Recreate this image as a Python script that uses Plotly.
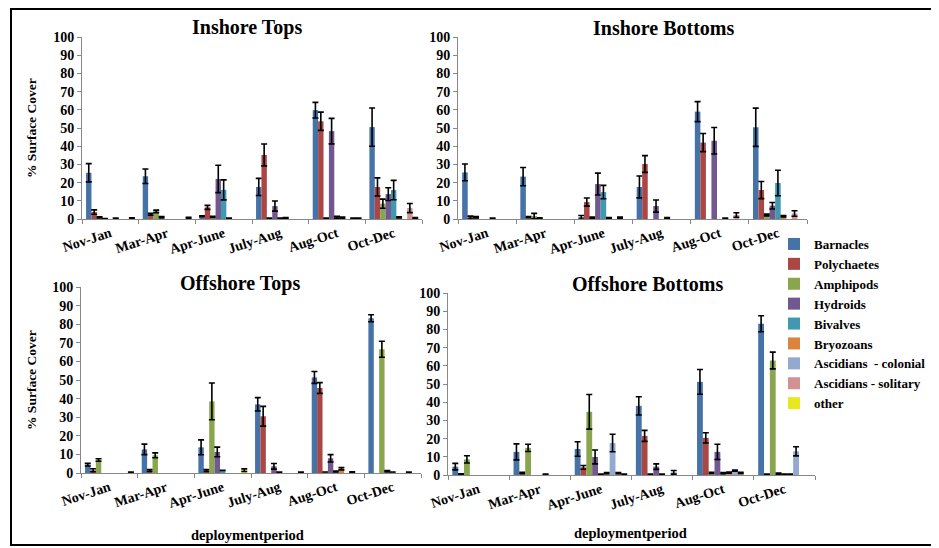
import plotly.graph_objects as go

categories = ["Nov-Jan", "Mar-Apr", "Apr-June", "July-Aug", "Aug-Oct", "Oct-Dec"]
series_names = ["Barnacles", "Polychaetes", "Amphipods", "Hydroids", "Bivalves",
                "Bryozoans", "Ascidians  - colonial", "Ascidians - solitary", "other"]
colors = ["#4572A7", "#AA4643", "#89A54E", "#71588F", "#4198AF",
          "#DB843D", "#93A9CF", "#D19392", "#E8E81E"]

# Inshore Tops: values and error
it_barnacles = [25.4, 23.5, 1.5, 17.6, 59.8, 50.5]
it_barnacles_err = [5, 4, 0.3, 4.7, 4.3, 10.5]
it_polychaetes = [3.8, 2.6, 6.4, 35.2, 53.7, 17.6]
it_polychaetes_err = [1.2, 0.5, 1.1, 6, 5, 5]
it_amphipods = [0.9, 4.2, 1.2, 0.5, 0.5, 8.4]
it_amphipods_err = [0.3, 0.7, 0.3, 0, 0, 2.5]
it_hydroids = [0.3, 1.0, 22, 7.1, 48.3, 13.7]
it_hydroids_err = [0, 0.3, 7.5, 2.8, 7, 3.5]
it_bivalves = [None, None, 16, 0.3, 1.0, 15.9]
it_bivalves_err = [0, 0, 5.5, 0.2, 0.5, 5.3]
it_bryozoans = [0.3, None, 0.3, 0.5, 0.8, 0.9]
it_bryozoans_err = [0.2, 0, 0.2, 0.3, 0.3, 0.3]
it_asc_col = [None, None, None, None, None, None]
it_asc_col_err = [0, 0, 0, 0, 0, 0]
it_asc_sol = [None, None, None, None, 0.3, 6.0]
it_asc_sol_err = [0, 0, 0, 0, 0.2, 2.5]
it_other = [0.4, 0.6, None, None, 0.5, 0.5]
it_other_err = [0.2, 0.3, 0, 0, 0, 0.3]

# Inshore Bottoms
ib_barnacles = [25.6, 23.3, 0.9, 17.6, 59.0, 50.4]
ib_barnacles_err = [4.6, 5, 1, 6, 5.5, 10.5]
ib_polychaetes = [0.8, 1.1, 9.3, 30.2, 42, 15.9]
ib_polychaetes_err = [0.8, 0.3, 2.2, 4.6, 5, 4.7]
ib_amphipods = [1.0, 1.6, 0.8, None, None, 2.2]
ib_amphipods_err = [0.4, 1.5, 0.3, 0, 0, 0.5]
ib_hydroids = [None, 0.5, 19.2, 7.1, 43, 7.3]
ib_hydroids_err = [0, 0.2, 6, 3.3, 7.3, 1.8]
ib_bivalves = [None, None, 14.8, None, None, 19.8]
ib_bivalves_err = [0, 0, 3.7, 0, 0, 7]
ib_bryozoans = [0.3, None, 0.5, 0.5, 0.3, 1.5]
ib_bryozoans_err = [0.2, 0, 0.3, 0.3, 0.2, 0.4]
ib_asc_col = [None, None, None, None, None, None]
ib_asc_col_err = [0, 0, 0, 0, 0, 0]
ib_asc_sol = [None, None, 0.8, None, 2.2, 3.0]
ib_asc_sol_err = [0, 0, 0.3, 0, 1.2, 1.5]
ib_other = [None, None, None, None, None, None]
ib_other_err = [0, 0, 0, 0, 0, 0]

# Offshore Tops
ot_barnacles = [4.5, 12.7, 13.8, 36.9, 51.4, 83.2]
ot_barnacles_err = [0.7, 2.8, 4, 3.6, 3.2, 1.9]
ot_polychaetes = [1.5, 1.3, 1.3, 30.5, 45.7, None]
ot_polychaetes_err = [0.8, 0.5, 0.5, 5.3, 2.9, 0]
ot_amphipods = [7.0, 9.5, 38.5, None, 0.5, 66.5]
ot_amphipods_err = [0.7, 1.3, 9.9, 0, 0, 4.3]
ot_hydroids = [None, None, 11.3, 3.6, 7.9, 1.0]
ot_hydroids_err = [0, 0, 2.6, 1.5, 2, 0.3]
ot_bivalves = [None, None, 1.4, 0.3, 0.8, 0.5]
ot_bivalves_err = [0, 0, 0, 0.2, 0.3, 0]
ot_bryozoans = [None, None, None, None, 2.3, None]
ot_bryozoans_err = [0, 0, 0, 0, 0.6, 0]
ot_asc_col = [None, None, None, None, None, None]
ot_asc_col_err = [0, 0, 0, 0, 0, 0]
ot_asc_sol = [None, None, None, None, 0.5, 0.3]
ot_asc_sol_err = [0, 0, 0, 0, 0.2, 0.2]
ot_other = [0.3, None, 1.5, 0.3, None, None]
ot_other_err = [0.2, 0, 0.7, 0.2, 0, 0]

# Offshore Bottoms
ob_barnacles = [4.6, 12.7, 14.3, 38.0, 51.2, 83.1]
ob_barnacles_err = [1.8, 4.4, 4, 5, 6.8, 4.4]
ob_polychaetes = [0.5, 1.2, 4.2, 21.5, 20.4, 0.5]
ob_polychaetes_err = [0.2, 0.3, 1, 3, 2.8, 0]
ob_amphipods = [8.6, 14.9, 34.7, 0.5, 1.2, 62.9]
ob_amphipods_err = [2, 2, 9.5, 0, 0.3, 4.6]
ob_hydroids = [None, None, 9.9, 4.6, 12.7, 0.8]
ob_hydroids_err = [0, 0, 3.8, 1.5, 4.2, 0.3]
ob_bivalves = [None, None, 0.5, 0.5, 1.0, 0.5]
ob_bivalves_err = [0, 0, 0, 0, 0.3, 0]
ob_bryozoans = [None, 0.5, 1.0, None, 1.3, 0.5]
ob_bryozoans_err = [0, 0, 0.3, 0, 0.3, 0]
ob_asc_col = [None, None, 17.6, 1.5, 2.4, 13.0]
ob_asc_col_err = [0, 0, 4.8, 1, 0.3, 2.5]
ob_asc_sol = [None, None, 1.0, None, 1.2, None]
ob_asc_sol_err = [0, 0, 0.3, 0, 0.3, 0]
ob_other = [None, None, 0.5, None, None, None]
ob_other_err = [0, 0, 0, 0, 0, 0]

panels = [
    ("x", "y", [it_barnacles, it_polychaetes, it_amphipods, it_hydroids, it_bivalves,
                it_bryozoans, it_asc_col, it_asc_sol, it_other],
     [it_barnacles_err, it_polychaetes_err, it_amphipods_err, it_hydroids_err, it_bivalves_err,
      it_bryozoans_err, it_asc_col_err, it_asc_sol_err, it_other_err]),
    ("x2", "y2", [ib_barnacles, ib_polychaetes, ib_amphipods, ib_hydroids, ib_bivalves,
                  ib_bryozoans, ib_asc_col, ib_asc_sol, ib_other],
     [ib_barnacles_err, ib_polychaetes_err, ib_amphipods_err, ib_hydroids_err, ib_bivalves_err,
      ib_bryozoans_err, ib_asc_col_err, ib_asc_sol_err, ib_other_err]),
    ("x3", "y3", [ot_barnacles, ot_polychaetes, ot_amphipods, ot_hydroids, ot_bivalves,
                  ot_bryozoans, ot_asc_col, ot_asc_sol, ot_other],
     [ot_barnacles_err, ot_polychaetes_err, ot_amphipods_err, ot_hydroids_err, ot_bivalves_err,
      ot_bryozoans_err, ot_asc_col_err, ot_asc_sol_err, ot_other_err]),
    ("x4", "y4", [ob_barnacles, ob_polychaetes, ob_amphipods, ob_hydroids, ob_bivalves,
                  ob_bryozoans, ob_asc_col, ob_asc_sol, ob_other],
     [ob_barnacles_err, ob_polychaetes_err, ob_amphipods_err, ob_hydroids_err, ob_bivalves_err,
      ob_bryozoans_err, ob_asc_col_err, ob_asc_sol_err, ob_other_err]),
]

# The page places the figure 8 px in from the window's top-left corner,
# so the figure is sized to fill the rest of the 939x548 window.
OFF = 8
W, H = 939 - OFF, 548 - OFF
FONT = "Liberation Serif"

fig = go.Figure()
for pi, (xa, ya, vals, errs) in enumerate(panels):
    for si, name in enumerate(series_names):
        fig.add_trace(go.Bar(
            x=categories, y=vals[si], name=name,
            marker=dict(color=colors[si], line=dict(width=0)),
            error_y=dict(type="data", array=errs[si], visible=True,
                         color="black", thickness=1.6, width=3),
            xaxis=xa, yaxis=ya, legendgroup=name, showlegend=(pi == 0),
        ))

def PX(x):
    return (x - OFF) / W

def PY(y):
    return 1 - (y - OFF) / H

def px_dom_x(a, b):
    return [PX(a), PX(b)]

def px_dom_y(top, bottom):
    return [PY(bottom), PY(top)]

tickfont = dict(family=FONT, size=14, color="black", weight="bold")
xcommon = dict(type="category", showline=True, linecolor="#888888", linewidth=1,
               ticks="outside", tickson="boundaries", ticklen=4, tickcolor="#888888",
               tickangle=-18, tickfont=tickfont, showgrid=False, zeroline=False,
               fixedrange=True, automargin=False)
ycommon = dict(range=[0, 100], dtick=10, showline=True, linecolor="#888888", linewidth=1,
               ticks="outside", ticklen=4, tickcolor="#888888", tickfont=tickfont,
               showgrid=False, zeroline=False, fixedrange=True, automargin=False)

layout = dict(
    width=W, height=H,
    margin=dict(l=0, r=0, t=0, b=0, autoexpand=False),
    paper_bgcolor="white", plot_bgcolor="white",
    barmode="group", bargap=0.143, bargroupgap=0,
    font=dict(family=FONT, color="black"),
    xaxis=dict(domain=px_dom_x(82, 422), anchor="y", **xcommon),
    yaxis=dict(domain=px_dom_y(37, 219), anchor="x", **ycommon),
    xaxis2=dict(domain=px_dom_x(458, 807), anchor="y2", **xcommon),
    yaxis2=dict(domain=px_dom_y(37, 219), anchor="x2", **ycommon),
    xaxis3=dict(domain=px_dom_x(81, 421), anchor="y3", **xcommon),
    yaxis3=dict(domain=px_dom_y(287, 473), anchor="x3", **ycommon),
    xaxis4=dict(domain=px_dom_x(448, 815), anchor="y4", **xcommon),
    yaxis4=dict(domain=px_dom_y(293, 475), anchor="x4", **ycommon),
    legend=dict(x=PX(774), y=PY(229), xanchor="left", yanchor="top",
                font=dict(family=FONT, size=13, color="black", weight="bold"),
                bgcolor="rgba(0,0,0,0)", tracegroupgap=0, itemwidth=30),
    showlegend=True,
)
fig.update_layout(**layout)

def ann(text, x, y, size, angle=0):
    fig.add_annotation(text=text, x=PX(x), y=PY(y), xref="paper", yref="paper",
                       showarrow=False, textangle=angle,
                       font=dict(family=FONT, size=size, color="black", weight="bold"),
                       xanchor="center", yanchor="middle")

ann("Inshore Tops", 247, 28, 20)
ann("Inshore Bottoms", 664, 28, 20)
ann("Offshore Tops", 240, 283, 20)
ann("Offshore Bottoms", 647, 284, 20)
ann("% Surface Cover", 31, 128, 13.5, -90)
ann("% Surface Cover", 31, 380, 13.5, -90)
ann("deploymentperiod", 247, 535, 14.5)
ann("deploymentperiod", 630, 533, 14.5)

fig.add_shape(type="rect", xref="paper", yref="paper",
              x0=PX(11), x1=PX(935), y0=PY(545), y1=PY(9),
              line=dict(color="black", width=2), fillcolor="rgba(0,0,0,0)")

fig.write_html("out.html")
